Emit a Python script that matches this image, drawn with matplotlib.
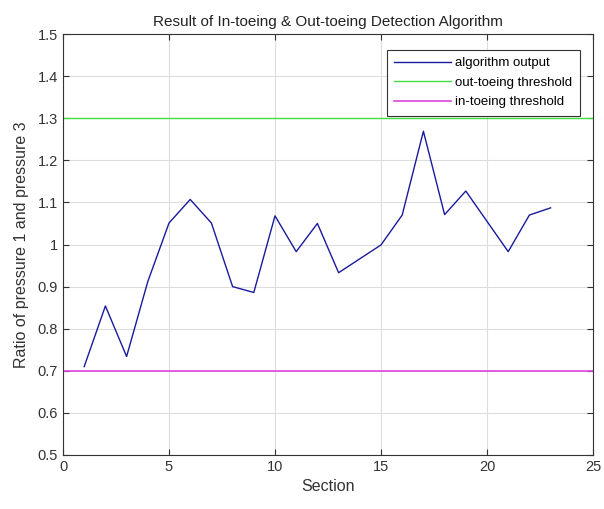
import matplotlib
matplotlib.use("Agg")
import matplotlib.pyplot as plt

plt.rcParams['font.family'] = ['Liberation Sans', 'DejaVu Sans']

sections = list(range(1, 24))
ratio = [0.71, 0.854, 0.734, 0.912, 1.051, 1.107, 1.051, 0.90, 0.886, 1.068,
         0.983, 1.05, 0.933, 0.966, 0.999, 1.07, 1.269, 1.071, 1.127, 1.055,
         0.983, 1.07, 1.087]
out_threshold = 1.3
in_threshold = 0.7
xticks = [0, 5, 10, 15, 20, 25]
yticks = [0.5, 0.6, 0.7, 0.8, 0.9, 1.0, 1.1, 1.2, 1.3, 1.4, 1.5]
ytick_labels = ['0.5', '0.6', '0.7', '0.8', '0.9', '1', '1.1', '1.2', '1.3', '1.4', '1.5']

fig = plt.figure(figsize=(6.04, 5.09), dpi=100)
ax = fig.add_axes([63/604, 1-455/509, (593-63)/604, (455-34)/509])

ax.plot(sections, ratio, color='#1a1a9c', lw=1.0, label='algorithm output')
ax.axhline(out_threshold, color='#44dd44', lw=1.0, label='out-toeing threshold')
ax.axhline(in_threshold, color='#dd44dd', lw=1.2, label='in-toeing threshold')

ax.set_xlim(0, 25)
ax.set_ylim(0.5, 1.5)
ax.set_xticks(xticks)
ax.set_yticks(yticks)
ax.set_yticklabels(ytick_labels)
ax.grid(True, color='#dddddd', lw=0.8)
ax.set_axisbelow(True)
ax.tick_params(direction='in', length=4, labelsize=10.5, colors='#333333',
               top=True, right=True, labelcolor='#333333')
for s in ax.spines.values():
    s.set_color('#333333')
    s.set_linewidth(0.8)

ax.set_title('Result of In-toeing & Out-toeing Detection Algorithm', fontsize=11, color='#222222', pad=6)
ax.set_xlabel('Section', fontsize=11.5, color='#333333', labelpad=4)
ax.set_ylabel('Ratio of pressure 1 and pressure 3', fontsize=11.5, color='#333333', labelpad=6)

leg = ax.legend(loc='upper right', fontsize=9.5, fancybox=False, framealpha=1,
                edgecolor='#333333', handlelength=4.3, handletextpad=0.35,
                borderpad=0.55, labelspacing=0.55, borderaxespad=0,
                bbox_to_anchor=(0.975, 0.962))
leg.get_frame().set_linewidth(0.8)

fig.savefig('out.png', dpi=100)
